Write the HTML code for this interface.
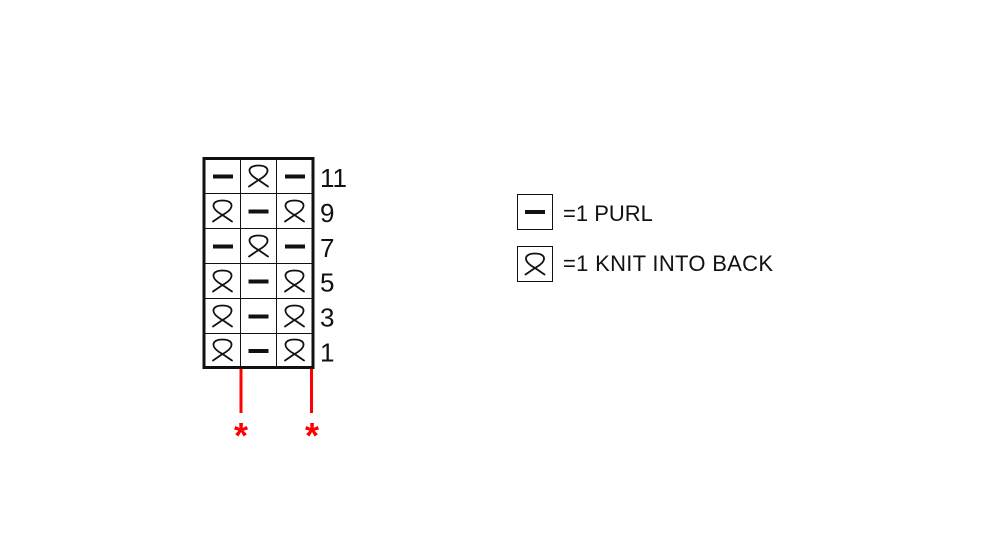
<!DOCTYPE html>
<html>
<head>
<meta charset="utf-8">
<style>
  html, body { margin: 0; padding: 0; background: #ffffff; }
  body { width: 1000px; height: 560px; overflow: hidden; }
  svg { display: block; }
  text { font-family: "Liberation Sans", "DejaVu Sans", sans-serif; }
</style>
</head>
<body>
<svg width="1000" height="560" viewBox="0 0 1000 560" xmlns="http://www.w3.org/2000/svg">
  <defs>
    <path id="loop" d="M -9.5 10.5 L 0 4 C 13 -3 11 -10.5 0 -10.5 C -11 -10.5 -13 -3 0 4 L 9.5 10.5" fill="none" stroke="#111" stroke-width="1.8" stroke-linejoin="round" stroke-linecap="round"/>
    <rect id="purl" x="-10" y="-2" width="20" height="4" fill="#111"/>
  </defs>

  <rect x="0" y="0" width="1000" height="560" fill="#ffffff"/>

  <!-- grid lines -->
  <g stroke="#111" stroke-width="1">
    <line x1="240.5" y1="158" x2="240.5" y2="368"/>
    <line x1="276.5" y1="158" x2="276.5" y2="368"/>
    <line x1="203" y1="193.5" x2="314" y2="193.5"/>
    <line x1="203" y1="228.5" x2="314" y2="228.5"/>
    <line x1="203" y1="263.5" x2="314" y2="263.5"/>
    <line x1="203" y1="298.5" x2="314" y2="298.5"/>
    <line x1="203" y1="333.5" x2="314" y2="333.5"/>
  </g>
  <rect x="204" y="158.5" width="109" height="209" fill="none" stroke="#111" stroke-width="3"/>

  <!-- Row 11: P L P -->
  <use href="#purl" x="223" y="176.5"/>
  <use href="#loop" x="258.5" y="176"/>
  <use href="#purl" x="295" y="176.5"/>
  <!-- Row 9: L P L -->
  <use href="#loop" x="222.5" y="211"/>
  <use href="#purl" x="258.5" y="211.5"/>
  <use href="#loop" x="294.5" y="211"/>
  <!-- Row 7: P L P -->
  <use href="#purl" x="223" y="246.5"/>
  <use href="#loop" x="258.5" y="246"/>
  <use href="#purl" x="295" y="246.5"/>
  <!-- Row 5 -->
  <use href="#loop" x="222.5" y="281"/>
  <use href="#purl" x="258.5" y="281.5"/>
  <use href="#loop" x="294.5" y="281"/>
  <!-- Row 3 -->
  <use href="#loop" x="222.5" y="316"/>
  <use href="#purl" x="258.5" y="316.5"/>
  <use href="#loop" x="294.5" y="316"/>
  <!-- Row 1 -->
  <use href="#loop" x="222.5" y="350"/>
  <use href="#purl" x="258.5" y="351"/>
  <use href="#loop" x="294.5" y="350"/>

  <!-- row numbers -->
  <g font-size="26" fill="#111">
    <text x="320" y="187">11</text>
    <text x="320" y="222">9</text>
    <text x="320" y="257">7</text>
    <text x="320" y="291.5">5</text>
    <text x="320" y="326.5">3</text>
    <text x="320" y="361.5">1</text>
  </g>

  <!-- red repeat markers -->
  <g stroke="#ff0000" stroke-width="3">
    <line x1="241" y1="369" x2="241" y2="413"/>
    <line x1="311.5" y1="369" x2="311.5" y2="413"/>
  </g>
  <g font-size="36" font-weight="bold" fill="#ff0000" text-anchor="middle">
    <text x="241" y="448">*</text>
    <text x="312" y="448">*</text>
  </g>

  <!-- legend -->
  <rect x="517.5" y="194.5" width="35" height="35" fill="none" stroke="#111" stroke-width="1"/>
  <rect x="525" y="210" width="20" height="4" fill="#111"/>
  <rect x="517.5" y="246.5" width="35" height="35" fill="none" stroke="#111" stroke-width="1"/>
  <use href="#loop" x="535" y="264"/>

  <g font-size="22" fill="#111">
    <text x="563" y="221">=1 PURL</text>
    <text x="563" y="271" letter-spacing="0.3">=1 KNIT INTO BACK</text>
  </g>
</svg>
</body>
</html>
